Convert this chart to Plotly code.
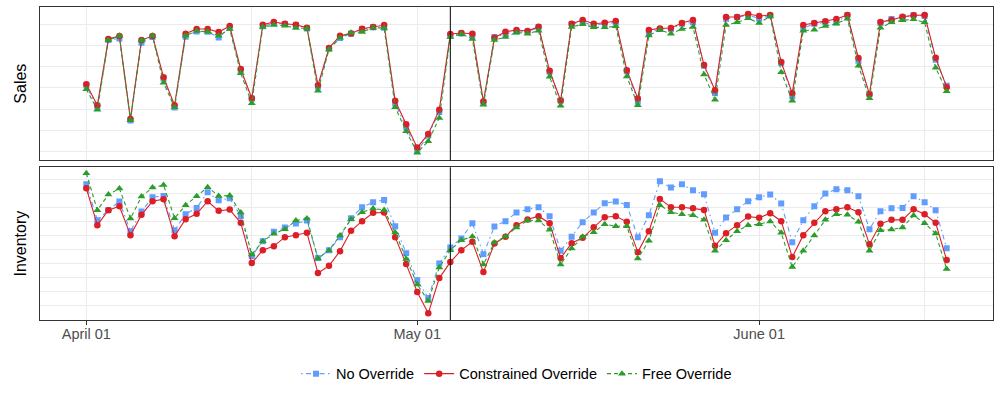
import plotly.graph_objects as go
import pandas as pd

# ---------------- data ----------------
start_date = "2024-04-01"
cutoff_date = "2024-05-04"

series_names = ["No Override", "Constrained Override", "Free Override"]

sales_no_override = [225, 157, 360, 365, 119, 352, 369, 245, 158, 370, 386, 385, 368, 397, 269, 184,
                     401, 411, 408, 405, 395, 220, 334, 366, 379, 393, 398, 397, 170, 100, 28, 75,
                     145, 372, 380, 374, 173, 369, 379, 385, 385, 398, 265, 178, 408, 413, 404, 409,
                     412, 267, 176, 381, 393, 393, 409, 413, 283, 201, 424, 428, 435, 424, 433, 291,
                     192, 395, 409, 413, 413, 434, 298, 198, 411, 423, 428, 434, 432, 301, 223]
sales_constrained = [228, 165, 363, 372, 124, 360, 372, 249, 165, 379, 393, 393, 384, 402, 273, 186,
                     406, 414, 409, 406, 397, 225, 336, 373, 380, 394, 399, 405, 178, 108, 38, 79,
                     151, 378, 381, 379, 176, 367, 385, 390, 387, 400, 268, 179, 409, 420, 409, 412,
                     417, 270, 185, 390, 395, 396, 411, 420, 285, 210, 429, 429, 438, 432, 435, 294,
                     201, 405, 411, 416, 423, 435, 306, 198, 414, 420, 430, 434, 435, 307, 219]
sales_free = [213, 151, 360, 373, 120, 359, 373, 232, 159, 373, 387, 385, 373, 393, 261, 171,
              399, 405, 403, 396, 395, 208, 332, 367, 382, 384, 397, 396, 159, 87, 23, 57,
              127, 369, 378, 363, 166, 360, 369, 383, 379, 388, 250, 163, 399, 407, 398, 398,
              401, 251, 165, 374, 390, 379, 393, 399, 257, 181, 405, 413, 425, 411, 431, 264,
              178, 388, 391, 402, 409, 424, 283, 186, 397, 413, 419, 422, 413, 277, 207]

inv_no_override = [408, 300, 331, 356, 267, 326, 369, 373, 270, 318, 337, 384, 360, 366, 312, 192,
                   237, 265, 278, 290, 299, 186, 210, 249, 306, 339, 354, 361, 282, 201, 120, 66,
                   170, 218, 245, 291, 198, 281, 297, 323, 333, 339, 312, 208, 250, 294, 323, 351,
                   356, 346, 249, 315, 417, 398, 408, 390, 378, 262, 308, 333, 357, 369, 377, 350,
                   234, 300, 342, 380, 393, 390, 372, 273, 327, 336, 337, 372, 354, 330, 216]
inv_constrained = [396, 285, 330, 342, 255, 316, 357, 363, 252, 303, 319, 357, 328, 332, 292, 171,
                   210, 222, 249, 255, 262, 141, 163, 207, 268, 297, 322, 323, 249, 168, 84, 20,
                   126, 174, 210, 235, 144, 230, 250, 285, 302, 312, 291, 186, 231, 247, 279, 309,
                   312, 295, 204, 267, 364, 339, 339, 336, 331, 223, 261, 285, 311, 307, 321, 297,
                   189, 255, 292, 327, 333, 339, 324, 228, 289, 301, 301, 333, 318, 292, 180]
inv_free = [441, 330, 377, 395, 305, 371, 398, 406, 306, 345, 372, 399, 373, 374, 323, 197,
            237, 259, 273, 299, 305, 185, 209, 254, 303, 324, 335, 331, 263, 183, 107, 57,
            158, 210, 240, 251, 167, 233, 251, 278, 299, 299, 271, 167, 215, 250, 264, 288,
            282, 282, 185, 238, 345, 324, 318, 315, 301, 208, 240, 267, 285, 288, 296, 262,
            159, 208, 254, 301, 318, 316, 295, 208, 270, 272, 278, 314, 291, 260, 153]

x_tick_vals = ["2024-04-01", "2024-05-01", "2024-06-01"]
x_tick_text = ["April 01", "May 01", "June 01"]
x_minor_vals = ["2024-04-16", "2024-05-16 12:00", "2024-06-16"]

dates = pd.date_range(start_date, periods=len(sales_no_override), freq="D")

# ---------------- styling ----------------
colors = ["#619CFF", "#DC1F26", "#2A9D2A"]
symbols = ["square", "circle", "triangle-up"]
marker_sizes = [6, 6.5, 7]
dashes = ["1.5px,3.5px,5px,3.5px", "solid", "4px,3px"]
font_family = "Liberation Sans, Arial, sans-serif"

sales_series = [sales_no_override, sales_constrained, sales_free]
inv_series = [inv_no_override, inv_constrained, inv_free]

fig = go.Figure()
for i, name in enumerate(series_names):
    for panel, (vals, xa, ya) in enumerate([(sales_series[i], "x", "y"), (inv_series[i], "x2", "y2")]):
        fig.add_trace(go.Scatter(
            x=dates, y=vals, name=name, mode="lines+markers",
            xaxis=xa, yaxis=ya, legendgroup=name, showlegend=(panel == 0),
            line=dict(color=colors[i], width=1.1, dash=dashes[i]),
            marker=dict(color=colors[i], symbol=symbols[i], size=marker_sizes[i], line=dict(width=0)),
        ))

x_range = ["2024-03-27 19:12", "2024-06-22 04:48"]
grid = "#EBEBEB"
border = "#333333"

common_x = dict(type="date", range=x_range, showgrid=True, gridcolor=grid, gridwidth=1,
                tickmode="array", tickvals=x_tick_vals, ticktext=x_tick_text,
                minor=dict(tickmode="array", tickvals=x_minor_vals, showgrid=True, gridcolor=grid, gridwidth=1),
                showline=True, linecolor=border, linewidth=1, mirror=True, zeroline=False)

fig.update_layout(
    width=1000, height=400,
    margin=dict(l=40, r=7, t=7, b=80),
    paper_bgcolor="white", plot_bgcolor="white",
    font=dict(family=font_family, size=14.5, color="black"),
    xaxis=dict(**common_x, matches="x2", showticklabels=False, ticks="", anchor="y"),
    xaxis2=dict(**common_x, anchor="y2", ticks="outside", ticklen=4, tickcolor=border,
                ticklabelstandoff=-3, tickfont=dict(color="#4D4D4D", size=14.5)),
    yaxis=dict(domain=[0.5102, 1], range=[0, 459], tick0=26, dtick=63.67, showticklabels=False,
               ticks="", showgrid=True, gridcolor=grid, zeroline=False, showline=True,
               linecolor=border, linewidth=1, mirror=True,
               title=dict(text="Sales", font=dict(size=16, color="black"), standoff=8), anchor="x"),
    yaxis2=dict(domain=[0, 0.4879], range=[0, 459], tick0=43, dtick=42.2, showticklabels=False,
                ticks="", showgrid=True, gridcolor=grid, zeroline=False, showline=True,
                linecolor=border, linewidth=1, mirror=True,
                title=dict(text="Inventory", font=dict(size=16, color="black"), standoff=8), anchor="x2"),
    legend=dict(orientation="h", x=0.5, xanchor="center", y=-0.1716, yanchor="middle",
                font=dict(size=14.5, color="black"), bgcolor="rgba(0,0,0,0)"),
    shapes=[
        dict(type="line", xref="x", yref="y domain", x0=cutoff_date, x1=cutoff_date, y0=0, y1=1,
             line=dict(color="black", width=1)),
        dict(type="line", xref="x2", yref="y2 domain", x0=cutoff_date, x1=cutoff_date, y0=0, y1=1,
             line=dict(color="black", width=1)),
    ],
)

fig.write_html("out.html")
